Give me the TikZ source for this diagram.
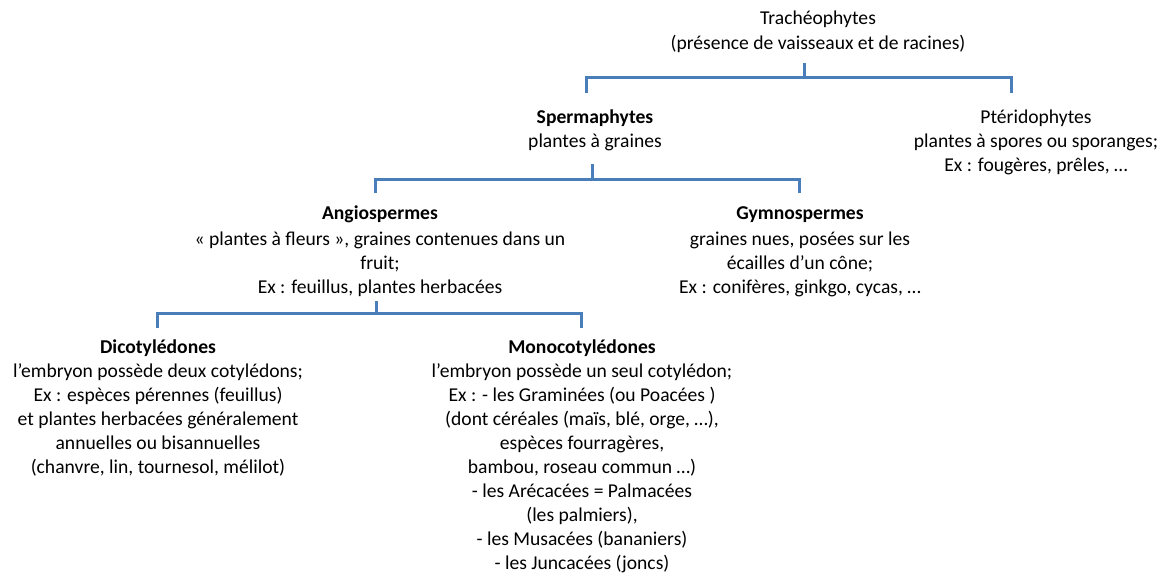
\documentclass[tikz,border=0pt]{standalone}
\usepackage{fontspec}
\setmainfont{Carlito}
\usepackage{tikz}
\usetikzlibrary{positioning, calc}

\definecolor{branchblue}{RGB}{74,126,187}

\begin{document}
\begin{tikzpicture}[
        x=1pt, y=-1pt,
        every node/.style={align=center, anchor=north, inner sep=0pt, font=\fontsize{19.6}{24}\selectfont},
        branch/.style={line width=3pt, branchblue}
    ]
        \useasboundingbox[fill=white] (0,0) rectangle (1160,577);

        \node (trach) at (818,11) {Trachéophytes\\[1pt](présence de vaisseaux et de racines)};

        \node (sperm) at (595,110) {\textbf{Spermaphytes}\\plantes à graines};
        \node (pter) at (1036,110) {Ptéridophytes\\plantes à spores ou sporanges;\\Ex : fougères, prêles, …};

        \node (angio) at (380,206) {\textbf{Angiospermes}\\[2pt]«~plantes à fleurs~», graines contenues dans un\\fruit;\\Ex : feuillus, plantes herbacées};
        \node (gymno) at (800,206) {\textbf{Gymnospermes}\\[2pt]graines nues, posées sur les\\écailles d’un cône;\\Ex : conifères, ginkgo, cycas, …};

        \node (dico) at (158,340) {\textbf{Dicotylédones}\\l’embryon possède deux cotylédons;\\Ex : espèces pérennes (feuillus)\\et plantes herbacées généralement\\annuelles ou bisannuelles\\(chanvre, lin, tournesol, mélilot)};
        \node (mono) at (582,340) {\textbf{Monocotylédones}\\l’embryon possède un seul cotylédon;\\Ex : - les Graminées (ou Poacées )\\(dont céréales (maïs, blé, orge, …),\\espèces fourragères,\\bambou, roseau commun …)\\- les Arécacées = Palmacées\\(les palmiers),\\- les Musacées (bananiers)\\- les Juncacées (joncs)};

        % bracket junctions
        \coordinate (trach-stem) at (804,63);
        \coordinate (bar1) at (804,78);
        \coordinate (sperm-top) at (586,93);
        \coordinate (pter-top) at (1011,93);

        \coordinate (sperm-stem) at (592,164);
        \coordinate (bar2) at (592,180);
        \coordinate (angio-top) at (375,193);
        \coordinate (gymno-top) at (799,193);

        \coordinate (angio-stem) at (376,301);
        \coordinate (bar3) at (376,314);
        \coordinate (dico-top) at (157,328);
        \coordinate (mono-top) at (581,328);

        \draw[branch] (trach-stem) -- (bar1);
        \draw[branch] (sperm-top) |- (bar1) -| (pter-top);

        \draw[branch] (sperm-stem) -- (bar2);
        \draw[branch] (angio-top) |- (bar2) -| (gymno-top);

        \draw[branch] (angio-stem) -- (bar3);
        \draw[branch] (dico-top) |- (bar3) -| (mono-top);
    \end{tikzpicture}
\end{document}
